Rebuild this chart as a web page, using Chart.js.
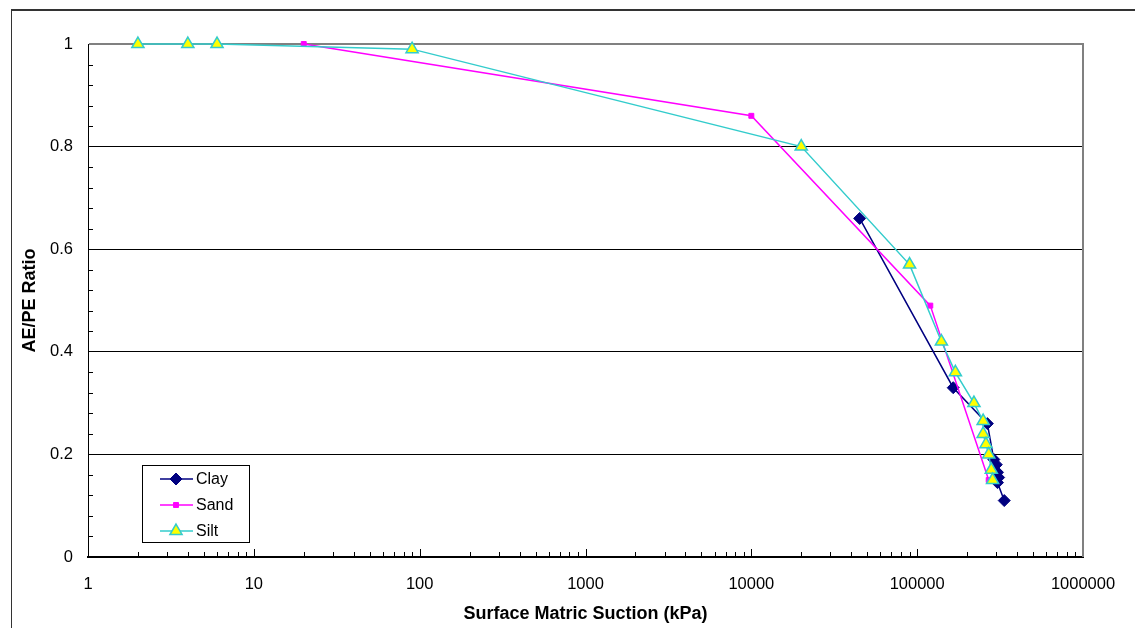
<!DOCTYPE html>
<html>
<head>
<meta charset="utf-8">
<script src="https://cdn.jsdelivr.net/npm/chart.js@4.4.1/dist/chart.umd.min.js"></script>
<style>
	body { margin: 0; background: #fff; }
	#wrap { position: relative; width: 1135px; height: 628px; overflow: hidden; }
	#marco { position: absolute; left: 11px; top: 9px; right: -10px; bottom: -10px; border-top: 2px solid #333; border-left: 1px solid #333; }
	#chart_suction { position: absolute; left: 0; top: 0; }
</style>
</head>
<body>
<div id="wrap">
	<div id="marco"></div>
	<canvas id="chart_suction" width="1135" height="628"></canvas>
</div>
<script>
// datos
const series = ['Clay', 'Sand', 'Silt'];

const clayX = [45000, 165000, 265000, 290000, 300000, 305000, 310000, 305000, 335000];
const clayY = [0.66, 0.33, 0.26, 0.19, 0.18, 0.165, 0.155, 0.145, 0.11];

const sandX = [20, 10000, 120000, 270000];
const sandY = [1.0, 0.86, 0.49, 0.15];

const siltX = [2, 4, 6, 90, 20000, 90000, 140000, 170000, 220000, 250000, 250000, 260000, 270000, 280000, 285000];
const siltY = [1, 1, 1, 0.99, 0.80, 0.57, 0.42, 0.36, 0.30, 0.265, 0.24, 0.22, 0.20, 0.17, 0.15];

const xTicks = [1, 10, 100, 1000, 10000, 100000, 1000000];
const yTicks = [0, 0.2, 0.4, 0.6, 0.8, 1];

Chart.defaults.font.family = '"Liberation Sans", Arial, sans-serif';
Chart.defaults.color = '#000';

const toPoints = (xs, ys) => xs.map((x, i) => ({x: x, y: ys[i]}));

// ticks hacia adentro + borde derecho gris
const marcoPlugin = {
	id: 'marco',
	beforeDatasetsDraw(chart) {
		const ctx = chart.ctx;
		const area = chart.chartArea;
		const sx = chart.scales.x;
		const sy = chart.scales.y;
		ctx.save();
		ctx.strokeStyle = '#000';
		ctx.lineWidth = 1;
		ctx.beginPath();
		for (let d = 0; d < 6; d++) {
			for (let m = 1; m < 10; m++) {
				const v = m * Math.pow(10, d);
				const px = Math.round(sx.getPixelForValue(v)) + 0.5;
				const len = m === 1 ? 8 : 5;
				ctx.moveTo(px, area.bottom);
				ctx.lineTo(px, area.bottom - len);
			}
		}
		for (let k = 1; k < 25; k++) {
			if (k % 5 === 0) continue;
			const py = Math.round(sy.getPixelForValue(k * 0.04)) + 0.5;
			ctx.moveTo(area.left, py);
			ctx.lineTo(area.left + 5, py);
		}
		ctx.stroke();
		ctx.strokeStyle = '#808080';
		ctx.lineWidth = 2;
		ctx.beginPath();
		ctx.moveTo(area.right, area.top - 1);
		ctx.lineTo(area.right, area.bottom);
		ctx.stroke();
		ctx.restore();
	}
};

// leyenda dentro del area
const leyendaPlugin = {
	id: 'leyenda',
	afterDraw(chart) {
		const ctx = chart.ctx;
		ctx.save();
		ctx.fillStyle = '#fff';
		ctx.fillRect(142, 465, 107, 77);
		ctx.strokeStyle = '#000';
		ctx.lineWidth = 1;
		ctx.strokeRect(142.5, 465.5, 107, 77);
		chart.data.datasets.forEach((ds, i) => {
			const y = 479 + i * 26;
			ctx.strokeStyle = ds.borderColor;
			ctx.lineWidth = ds.borderWidth;
			ctx.beginPath();
			ctx.moveTo(160, y);
			ctx.lineTo(193, y);
			ctx.stroke();
			ctx.fillStyle = ds.pointBackgroundColor;
			ctx.strokeStyle = ds.pointBorderColor;
			ctx.lineWidth = ds.pointBorderWidth;
			Chart.helpers.drawPoint(ctx, {
				pointStyle: ds.pointStyle,
				radius: ds.pointRadius,
				borderWidth: ds.pointBorderWidth,
				rotation: 0
			}, 176, y);
			ctx.fillStyle = '#000';
			ctx.font = '16px "Liberation Sans", Arial, sans-serif';
			ctx.textBaseline = 'middle';
			ctx.textAlign = 'left';
			ctx.fillText(ds.label, 196, y + 1);
		});
		ctx.restore();
	}
};

let ctx = document.getElementById('chart_suction');
let data = {
	datasets: [
		{
			label: series[0],
			data: toPoints(clayX, clayY),
			borderColor: '#000080',
			borderWidth: 1.5,
			pointStyle: 'rectRot',
			pointRadius: 6,
			pointBackgroundColor: '#000080',
			pointBorderColor: '#000080',
			pointBorderWidth: 1,
			order: 3,
			clip: false
		},
		{
			label: series[1],
			data: toPoints(sandX, sandY),
			borderColor: '#FF00FF',
			borderWidth: 1.5,
			pointStyle: 'rect',
			pointRadius: 3.5,
			pointBackgroundColor: '#FF00FF',
			pointBorderColor: '#FF00FF',
			pointBorderWidth: 1,
			order: 2,
			clip: false
		},
		{
			label: series[2],
			data: toPoints(siltX, siltY),
			borderColor: '#33CCCC',
			borderWidth: 1.5,
			pointStyle: 'triangle',
			pointRadius: 7,
			pointBackgroundColor: '#FFFF00',
			pointBorderColor: '#33CCCC',
			pointBorderWidth: 1.5,
			order: 1,
			clip: false
		}
	]
};

let options = {
	responsive: false,
	animation: false,
	layout: { padding: { top: 44, right: 52, left: 0, bottom: 0 } },
	elements: { line: { tension: 0, fill: false } },
	plugins: { legend: { display: false }, tooltip: { enabled: false } },
	scales: {
		x: {
			type: 'logarithmic',
			min: 1,
			max: 1000000,
			afterBuildTicks: s => { s.ticks = xTicks.map(v => ({value: v})); },
			afterFit: s => { s.height = 71; },
			grid: { display: false, drawTicks: false },
			border: { display: true, color: '#000', width: 2 },
			ticks: {
				autoSkip: false,
				maxRotation: 0,
				padding: 18,
				font: { size: 16.5 },
				callback: v => String(v)
			},
			title: {
				display: true,
				text: 'Surface Matric Suction (kPa)',
				font: { size: 18, weight: 'bold' },
				padding: { top: 0, bottom: 3 }
			}
		},
		y: {
			min: 0,
			max: 1,
			afterBuildTicks: s => { s.ticks = yTicks.map(v => ({value: v})); },
			afterFit: s => { s.width = 88; },
			grid: {
				drawTicks: false,
				color: c => (c.tick && c.tick.value === 1) ? '#808080' : '#000',
				lineWidth: c => (c.tick && c.tick.value === 1) ? 2 : 1
			},
			border: { display: true, color: '#000', width: 1 },
			ticks: {
				padding: 15,
				font: { size: 16.5 },
				callback: v => String(v)
			},
			title: {
				display: true,
				text: 'AE/PE Ratio',
				font: { size: 18, weight: 'bold' },
				padding: { top: 19, bottom: 0 }
			}
		}
	}
};

let graficoSuccion = new Chart(ctx, {
	type: 'line',
	data: data,
	options: options,
	plugins: [marcoPlugin, leyendaPlugin]
});
</script>
</body>
</html>
